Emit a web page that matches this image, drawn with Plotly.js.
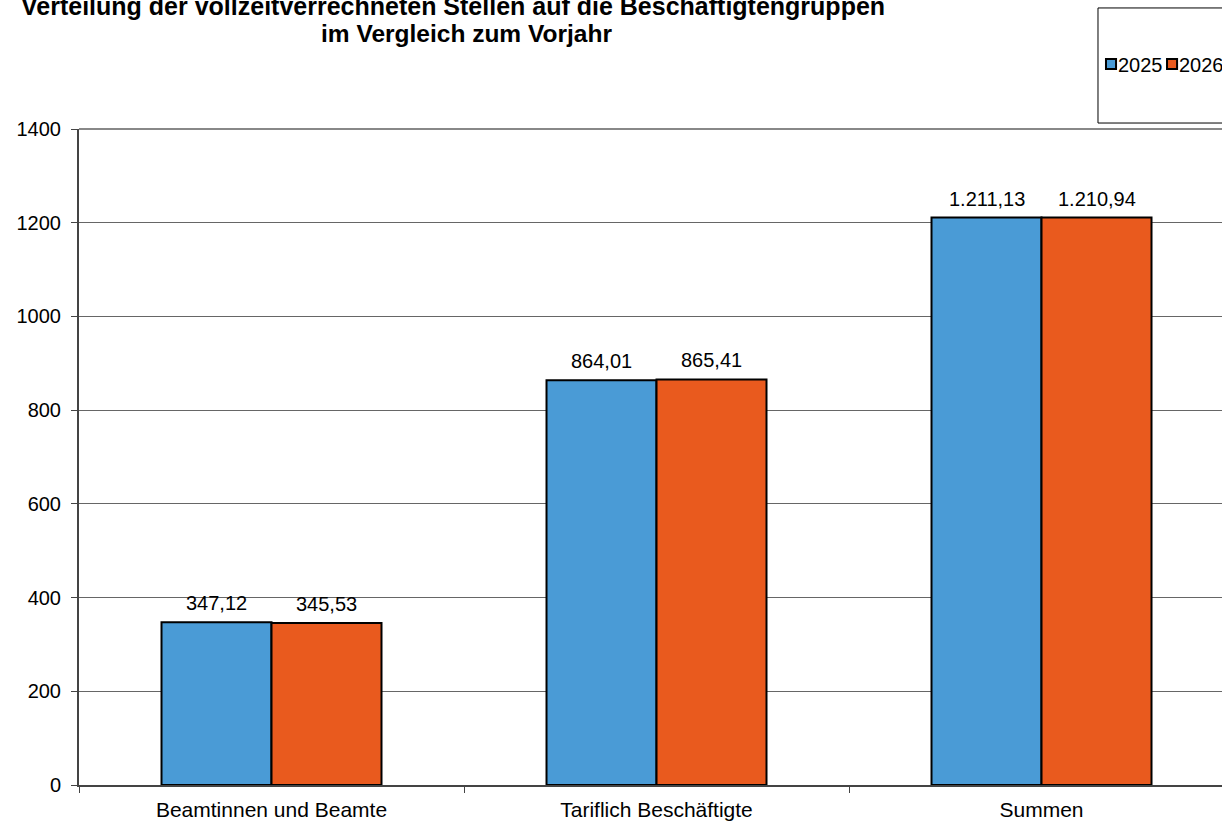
<!DOCTYPE html>
<html>
<head>
<meta charset="utf-8">
<script src="https://cdn.plot.ly/plotly-3.0.1.min.js"></script>
<style>html,body{margin:0;padding:0;background:#fff;}#chart{width:1222px;height:823px;}</style>
</head>
<body>
<div id="chart"></div>
<script>
const categories = ['Beamtinnen und Beamte', 'Tariflich Beschäftigte', 'Summen'];
const seriesNames = ['2025', '2026'];
const values2025 = [347.12, 864.01, 1211.13];
const values2026 = [345.53, 865.41, 1210.94];
const yTicks = [0, 200, 400, 600, 800, 1000, 1200, 1400];
const titleLines = ['Verteilung der vollzeitverrechneten Stellen auf die Beschäftigtengruppen', 'im Vergleich zum Vorjahr'];

const FONT = 'Liberation Sans, Arial, sans-serif';
const colors = ['#4A9BD6', '#E95A1E'];
const seriesValues = [values2025, values2026];

const data = seriesValues.map((vals, i) => ({
  type: 'bar',
  name: seriesNames[i],
  x: categories,
  y: vals,
  marker: {color: colors[i], line: {color: '#000', width: 2}},
  hoverinfo: 'skip',
  showlegend: false
}));

// value labels above each bar, positioned from the data through the axes
const fmt = v => v.toFixed(2).replace('.', ',').replace(/\B(?=(\d{3})+(?!\d))/g, '.');
const annotations = [];
seriesValues.forEach((vals, i) => {
  vals.forEach((v, j) => {
    annotations.push({
      x: categories[j], y: v, xref: 'x', yref: 'y',
      text: fmt(v), showarrow: false,
      xshift: i === 0 ? -55 : 55, yshift: 19,
      xanchor: 'center', yanchor: 'middle',
      font: {family: FONT, size: 20, color: '#000'}
    });
  });
});

// title (two lines, placed separately)
annotations.push(
  {text: '<b>' + titleLines[0] + '</b>', xref: 'paper', yref: 'paper', x: 0.3272, y: 1.1875,
   xanchor: 'center', yanchor: 'middle', showarrow: false,
   font: {family: FONT, size: 25, color: '#000'}},
  {text: '<b>' + titleLines[1] + '</b>', xref: 'paper', yref: 'paper', x: 0.3394, y: 1.1463,
   xanchor: 'center', yanchor: 'middle', showarrow: false,
   font: {family: FONT, size: 24.5, color: '#000'}}
);

// legend (box, swatches and names)
const shapes = [
  {type: 'rect', xref: 'paper', yref: 'paper', x0: 0.8915, x1: 1.05, y0: 1.0091, y1: 1.1845,
   line: {color: '#000', width: 1}, fillcolor: 'rgba(0,0,0,0)'},
  {type: 'line', xref: 'paper', yref: 'paper', x0: 0, x1: 1, y0: 1, y1: 1,
   line: {color: '#888', width: 2}}
];
const legendX = [0.8985, 0.9519];
seriesNames.forEach((name, i) => {
  shapes.push({type: 'rect', xref: 'paper', yref: 'paper',
    x0: legendX[i], x1: legendX[i] + 0.0088, y0: 1.0915, y1: 1.1067,
    line: {color: '#000', width: 2}, fillcolor: colors[i]});
  annotations.push({text: name, xref: 'paper', yref: 'paper', x: legendX[i] + 0.0088, y: 1.0976,
    xanchor: 'left', yanchor: 'middle', showarrow: false,
    font: {family: FONT, size: 20, color: '#000'}});
});

const layout = {
  width: 1222,
  height: 823,
  font: {family: FONT, size: 20, color: '#000'},
  paper_bgcolor: '#fff',
  plot_bgcolor: '#fff',
  margin: {l: 79, r: 0, t: 129, b: 38, pad: 0, autoexpand: false},
  barmode: 'group',
  bargap: 0.4286,
  bargroupgap: 0,
  showlegend: false,
  xaxis: {
    type: 'category',
    range: [-0.5, 2.4688],
    showgrid: false,
    showline: true,
    linecolor: '#444',
    linewidth: 2,
    ticks: 'outside',
    tickson: 'boundaries',
    ticklen: 6,
    tickcolor: '#444',
    ticklabelstandoff: 5,
    tickfont: {family: FONT, size: 21, color: '#000'},
    fixedrange: true
  },
  yaxis: {
    range: [0, 1400],
    tickvals: yTicks,
    ticktext: yTicks.map(String),
    showgrid: true,
    gridcolor: '#666',
    gridwidth: 1,
    showline: true,
    linecolor: '#444',
    linewidth: 2,
    ticks: 'outside',
    ticklen: 6,
    tickcolor: '#444',
    ticklabelstandoff: 6,
    tickfont: {family: FONT, size: 20, color: '#000'},
    zeroline: false,
    fixedrange: true
  },
  shapes: shapes,
  annotations: annotations
};

Plotly.newPlot('chart', data, layout, {displayModeBar: false, staticPlot: true});
</script>
</body>
</html>
